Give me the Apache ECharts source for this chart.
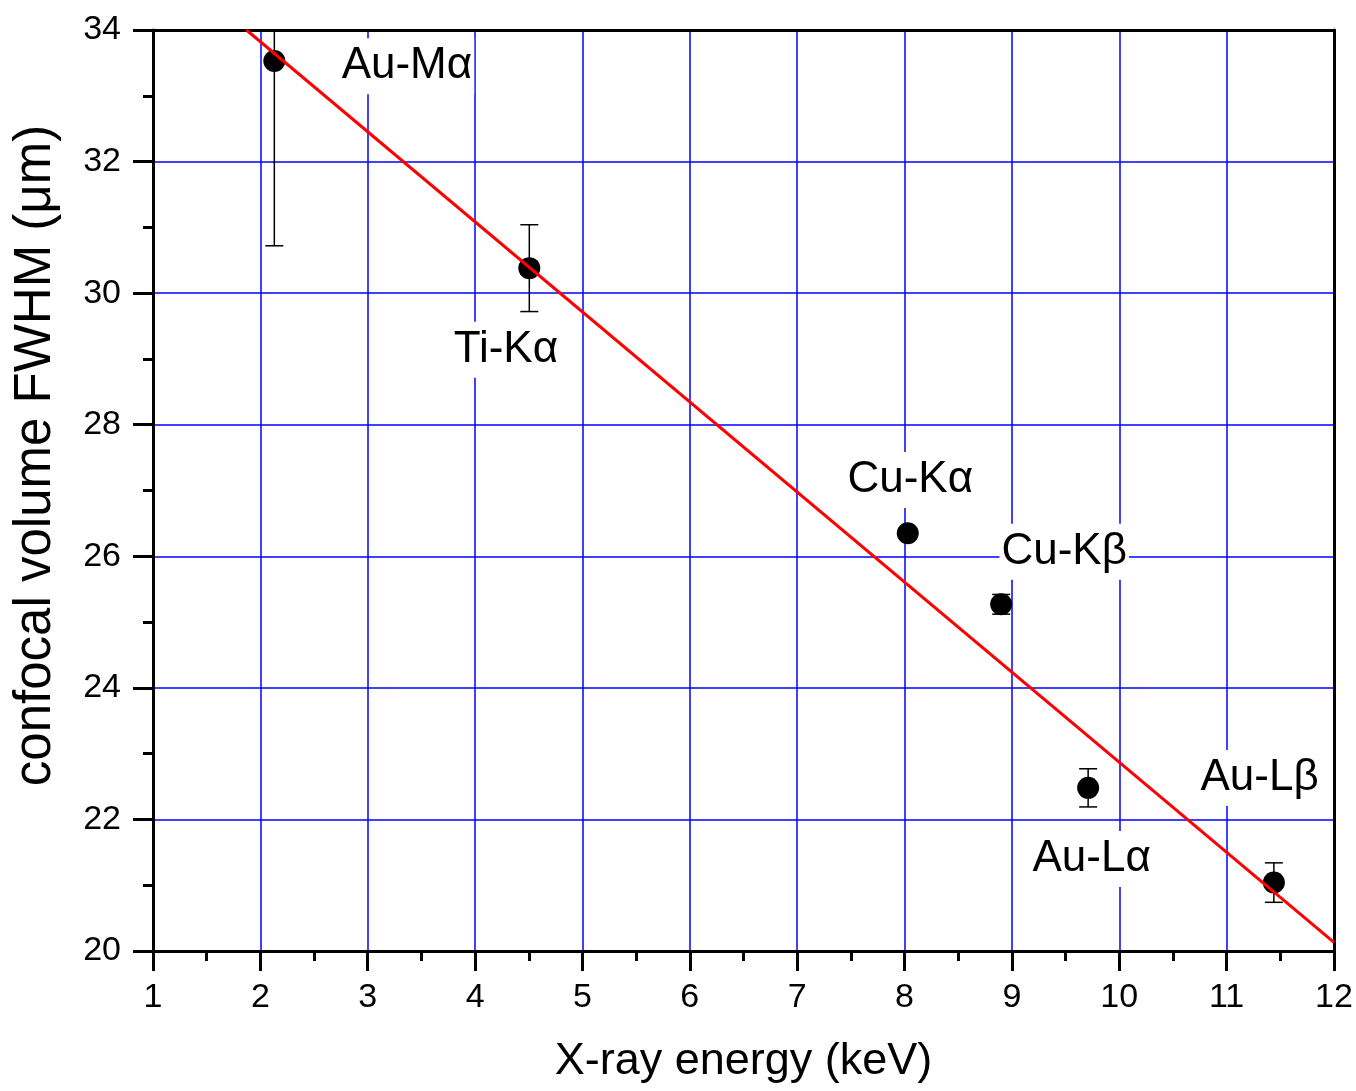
<!DOCTYPE html>
<html>
<head>
<meta charset="utf-8">
<title>confocal volume FWHM vs X-ray energy</title>
<script src="https://cdn.jsdelivr.net/npm/echarts@6/dist/echarts.min.js"></script>
<style>
  html, body { margin: 0; padding: 0; background: #fff; }
  #chart { width: 1356px; height: 1091px; }
</style>
</head>
<body>
<div id="chart"></div>
<script>
// 数据
var lines = ['Au-Mα', 'Ti-Kα', 'Cu-Kα', 'Cu-Kβ', 'Au-Lα', 'Au-Lβ'];
var energy = [2.13, 4.505, 8.03, 8.90, 9.71, 11.44];
var fwhm = [33.53, 30.38, 26.35, 25.27, 22.48, 21.04];
var fwhmErr = [2.81, 0.66, 0.05, 0.15, 0.29, 0.30];

// 标注文字的中心位置(数据坐标)
var labelX = [3.365, 4.287, 8.053, 9.487, 9.743, 11.307];
var labelY = [33.45, 29.14, 27.16, 26.07, 21.40, 22.63];

// 线性拟合线的两个端点
var fitX = [1.87, 12];
var fitY = [34, 20.13];

var FONT = '"Liberation Sans", Arial, sans-serif';

var chart = echarts.init(document.getElementById('chart'));

var pts = energy.map(function (x, i) { return [x, fwhm[i]]; });
var errData = energy.map(function (x, i) { return [x, fwhm[i] - fwhmErr[i], fwhm[i] + fwhmErr[i]]; });
var labData = labelX.map(function (x, i) { return { value: [x, labelY[i]], name: lines[i] }; });
var fitData = fitX.map(function (x, i) { return [x, fitY[i]]; });

var option = {
  animation: false,
  backgroundColor: '#fff',
  grid: { left: 153, right: 22, top: 30, bottom: 140, containLabel: false },
  xAxis: [{
    type: 'value', min: 1, max: 12, interval: 1,
    name: 'X-ray energy (keV)', nameLocation: 'middle', nameGap: 88,
    nameTextStyle: { fontFamily: FONT, fontSize: 45, color: '#000' },
    axisLine: { onZero: false, lineStyle: { color: '#000', width: 3 } },
    axisTick: { inside: false, length: 20, lineStyle: { color: '#000', width: 3 } },
    minorTick: { show: true, splitNumber: 2, length: 10, lineStyle: { color: '#000', width: 3 } },
    axisLabel: { margin: 30, fontFamily: FONT, fontSize: 34, color: '#000' },
    splitLine: { show: true, lineStyle: { color: '#0000ff', width: 1.5 } }
  }, {
    type: 'value', position: 'top', min: 1, max: 12,
    axisLine: { onZero: false, lineStyle: { color: '#000', width: 3 } },
    axisTick: { show: false }, axisLabel: { show: false }, splitLine: { show: false }
  }],
  yAxis: [{
    type: 'value', min: 20, max: 34, interval: 2,
    name: 'confocal volume FWHM (μm)', nameLocation: 'middle', nameGap: 92,
    nameTextStyle: { fontFamily: FONT, fontSize: 51, color: '#000', padding: [0, 0, 0, 70] },
    axisLine: { onZero: false, lineStyle: { color: '#000', width: 3 } },
    axisTick: { inside: false, length: 20, lineStyle: { color: '#000', width: 3 } },
    minorTick: { show: true, splitNumber: 2, length: 10, lineStyle: { color: '#000', width: 3 } },
    axisLabel: { margin: 32, fontFamily: FONT, fontSize: 34, color: '#000' },
    splitLine: { show: true, lineStyle: { color: '#0000ff', width: 1.5 } }
  }, {
    type: 'value', position: 'right', min: 20, max: 34,
    axisLine: { onZero: false, lineStyle: { color: '#000', width: 3 } },
    axisTick: { show: false }, axisLabel: { show: false }, splitLine: { show: false }
  }],
  series: [
    // 标注(白底遮住网格线)
    {
      type: 'scatter', data: labData, symbolSize: 0, z: 2, silent: true,
      itemStyle: { opacity: 1 },
      label: {
        show: true, position: 'inside', formatter: '{b}',
        fontFamily: FONT, fontSize: 44, color: '#000', lineHeight: 52,
        backgroundColor: '#fff', padding: [2, 2]
      }
    },
    // 误差棒
    {
      type: 'custom', data: errData, z: 3, clip: true, silent: true,
      renderItem: function (params, api) {
        var x = api.value(0);
        var lo = api.coord([x, api.value(1)]);
        var hi = api.coord([x, api.value(2)]);
        var w = 9;
        var st = { stroke: '#000', lineWidth: 1.5 };
        return {
          type: 'group',
          children: [
            { type: 'line', shape: { x1: lo[0], y1: lo[1], x2: hi[0], y2: hi[1] }, style: st },
            { type: 'line', shape: { x1: lo[0] - w, y1: lo[1], x2: lo[0] + w, y2: lo[1] }, style: st },
            { type: 'line', shape: { x1: hi[0] - w, y1: hi[1], x2: hi[0] + w, y2: hi[1] }, style: st }
          ]
        };
      }
    },
    // 数据点
    {
      type: 'scatter', data: pts, symbol: 'circle', symbolSize: 22, z: 4,
      itemStyle: { color: '#000', opacity: 1 }
    },
    // 拟合线
    {
      type: 'line', data: fitData, showSymbol: false, z: 5, clip: true,
      lineStyle: { color: '#ff0000', width: 3 }
    }
  ]
};

chart.setOption(option);
</script>
</body>
</html>
